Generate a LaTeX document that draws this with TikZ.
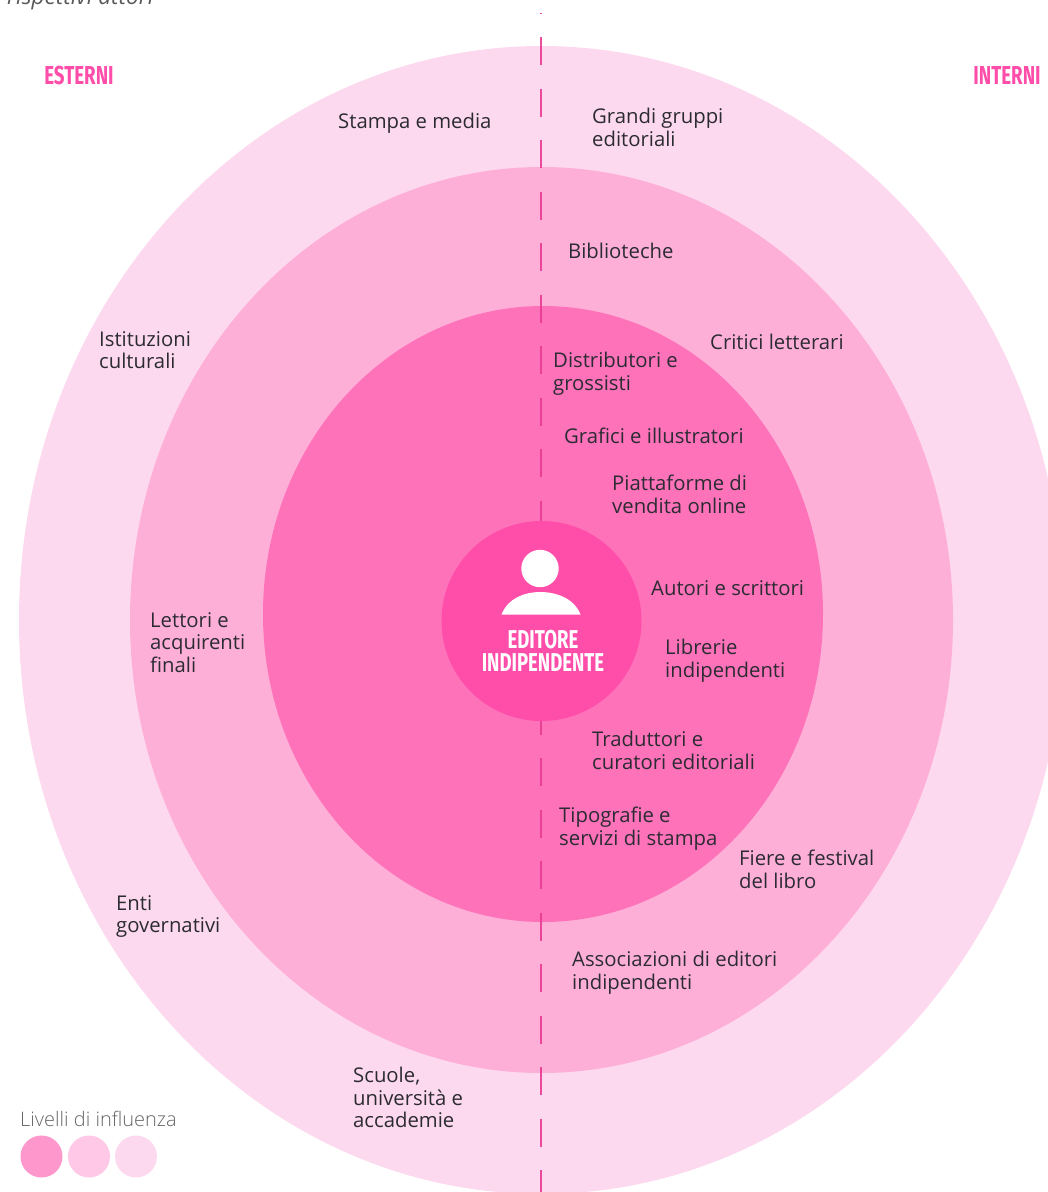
\documentclass[tikz,border=0pt]{standalone}
\usepackage{fontspec}
\setmainfont{Open Sans}
\newfontfamily\headfont[FakeStretch=0.72]{Fira Sans}
\newfontfamily\lightfont{Open Sans Light}
\definecolor{rosaout}{HTML}{FDD9EF}
\definecolor{rosamid}{HTML}{FEAFD8}
\definecolor{rosain}{HTML}{FE72B9}
\definecolor{rosacore}{HTML}{FE4EA9}
\definecolor{rosaline}{HTML}{E93892}
\definecolor{rosaleg}{HTML}{FE97CC}
\definecolor{rosaleg2}{HTML}{FEC8E6}
\definecolor{inchiostro}{HTML}{2B2B33}
\tikzset{
  etichetta/.style={align=left,anchor=north west,inner sep=0pt,yshift=-4.2pt,text=inchiostro,font=\fontsize{20.3}{22.4}\selectfont},
  lato/.style={inner sep=0pt,text=rosacore,font=\headfont\bfseries\fontsize{26}{26}\selectfont},
  pallino/.style={circle,minimum size=42pt,inner sep=0pt}
}
\begin{document}
\begin{tikzpicture}[x=1pt,y=-1pt]
\useasboundingbox (0,0) rectangle (1048,1192);
% ellipses
\fill[rosaout] (541.5,620) ellipse [x radius=522.5,y radius=574];
\fill[rosamid] (541.5,620) ellipse [x radius=411.5,y radius=453];
\fill[rosain] (543,614) ellipse [x radius=280,y radius=308];
% axis
\draw[rosaline,opacity=.89,line width=2.8pt,dash pattern=on 28pt off 23.5pt,dash phase=27.5pt] (541,13)--(541,1192);
\node[circle,fill=rosacore,minimum size=200pt,inner sep=0pt] (core) at (541.5,621) {};
% person
\fill[white] (540,568.5) circle (18.7pt);
\fill[white] (501.5,614.5) .. controls (508,598) and (525,592) .. (540,592) .. controls (556,592) and (574,598) .. (580.5,614.5) -- cycle;
\node[inner sep=0pt,text=white,align=center,font=\headfont\bfseries\fontsize{25.8}{23}\selectfont] (editore) at (543,651) {EDITORE\\INDIPENDENTE};
% sides
\node[lato] (esterni) at (79,75) {ESTERNI};
\node[lato] (interni) at (1007,75) {INTERNI};
% labels
\node[etichetta] (stampa) at (338,109) {Stampa e media};
\node[etichetta] (gruppi) at (592,104) {Grandi gruppi\\editoriali};
\node[etichetta] (biblio) at (568,239) {Biblioteche};
\node[etichetta] (istituzioni) at (99,327) {Istituzioni\\culturali};
\node[etichetta] (critici) at (710,330) {Critici letterari};
\node[etichetta] (distributori) at (553,348) {Distributori e\\grossisti};
\node[etichetta] (grafici) at (564,424) {Grafici e illustratori};
\node[etichetta] (piattaforme) at (612,471) {Piattaforme di\\vendita online};
\node[etichetta] (autori) at (651,576) {Autori e scrittori};
\node[etichetta] (lettori) at (150,608) {Lettori e\\acquirenti\\finali};
\node[etichetta] (librerie) at (665,635) {Librerie\\indipendenti};
\node[etichetta] (traduttori) at (592,727) {Traduttori e\\curatori editoriali};
\node[etichetta] (tipografie) at (559,803) {Tipografie e\\servizi di stampa};
\node[etichetta] (fiere) at (739,846) {Fiere e festival\\del libro};
\node[etichetta] (enti) at (116,891) {Enti\\governativi};
\node[etichetta] (associazioni) at (572,947) {Associazioni di editori\\indipendenti};
\node[etichetta] (scuole) at (353,1063) {Scuole,\\università e\\accademie};
% legend
\node[anchor=west,inner sep=0pt,text=black!60,font=\lightfont\fontsize{20}{22}\selectfont] (livelli) at (20,1119) {Livelli di influenza};
\node[pallino,fill=rosaleg] (leg1) at (41.5,1156.5) {};
\node[pallino,fill=rosaleg2] (leg2) at (89,1156.5) {};
\node[pallino,fill=rosaout] (leg3) at (136,1156.5) {};
% cut off line
\node[anchor=base west,inner sep=0pt,text=black!65,font=\itshape\fontsize{22.6}{24}\selectfont] (attori) at (7,4) {rispettivi attori};
\end{tikzpicture}
\end{document}
